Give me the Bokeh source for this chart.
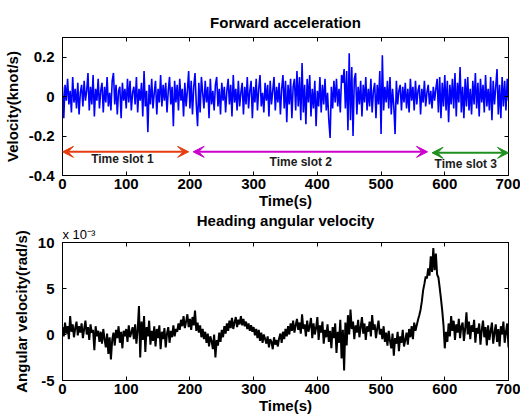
from bokeh.plotting import figure
from bokeh.models import LinearAxis, Range1d, Arrow, VeeHead, Label, FixedTicker, Title
from bokeh.layouts import column
from bokeh.embed import file_html
from bokeh.resources import INLINE

# ---------------- data ----------------
time_step_s = 2
forward_acc = [
    0.05, -0.11, 0.06, -0.02, 0.09, -0.04, 0.03, -0.08, 0.10, -0.03,
    0.04, -0.06, 0.07, -0.09, 0.02, 0.06, -0.05, 0.08, -0.02, 0.03,
    0.12, -0.07, 0.05, -0.04, 0.11, -0.10, 0.04, -0.02, 0.09, -0.06,
    0.03, 0.07, -0.08, 0.05, -0.03, 0.10, -0.05, 0.02, -0.07, 0.08,
    0.12, -0.04, 0.06, -0.09, 0.03, 0.05, -0.11, 0.07, -0.02, 0.04,
    -0.06, 0.09, -0.03, 0.08, -0.07, 0.02, 0.05, -0.04, 0.10, -0.08,
    0.04, -0.02, 0.07, -0.10, 0.13, -0.05, 0.03, -0.18, 0.06, -0.04,
    0.09, -0.06, 0.02, 0.08, -0.09, 0.04, -0.03, 0.11, -0.05, 0.06,
    -0.02, 0.07, -0.08, 0.03, 0.10, -0.04, 0.05, -0.15, 0.08, -0.03,
    0.06, -0.07, 0.09, -0.02, 0.04, -0.10, 0.07, -0.05, 0.03, 0.13,
    -0.06, 0.08, -0.09, 0.05, 0.12, -0.04, -0.15, 0.07, -0.08, 0.10,
    0.02, -0.06, 0.08, -0.03, 0.05, -0.11, 0.09, -0.04, 0.03, -0.07,
    0.06, 0.10, -0.05, 0.04, -0.09, 0.07, -0.02, 0.05, -0.08, 0.03,
    0.09, -0.04, 0.06, -0.10, 0.11, -0.03, 0.04, -0.07, 0.08, -0.05,
    0.02, 0.07, -0.09, 0.05, -0.04, 0.10, -0.06, 0.03, 0.08, -0.11,
    0.05, -0.03, 0.09, -0.07, 0.04, 0.11, -0.05, 0.02, -0.08, 0.07,
    -0.02, 0.06, -0.10, 0.08, -0.04, 0.03, 0.10, -0.07, 0.05, -0.03,
    0.07, -0.09, 0.04, 0.11, -0.06, 0.08, -0.13, 0.06, -0.04, 0.09,
    -0.11, 0.05, 0.09, -0.07, 0.13, -0.05, 0.10, -0.12, 0.17, -0.08,
    0.06, -0.14, 0.09, -0.03, 0.11, -0.10, 0.04, -0.06, 0.08, -0.15,
    0.03, -0.05, 0.10, -0.08, 0.06, -0.04, 0.09, -0.07, 0.02, -0.12,
    -0.21, 0.05, -0.06, 0.08, -0.03, 0.09, -0.05, 0.04, -0.08, 0.11,
    0.07, 0.14, -0.06, 0.13, -0.17, 0.22, -0.12, 0.15, -0.20, 0.09,
    0.12, -0.09, 0.05, -0.04, 0.08, -0.10, 0.06, -0.03, 0.10, -0.07,
    0.04, -0.05, 0.09, -0.08, 0.03, 0.07, -0.11, 0.06, -0.04, 0.13,
    -0.19, 0.21, -0.07, 0.05, -0.03, 0.08, -0.06, 0.10, -0.09, 0.04,
    -0.05, -0.19, 0.08, -0.04, 0.03, 0.06, -0.07, 0.05, -0.03, 0.07,
    -0.06, 0.04, -0.08, 0.09, -0.02, 0.05, -0.07, 0.08, -0.04, 0.03,
    0.06, -0.09, 0.04, -0.03, 0.08, -0.05, 0.02, 0.06, -0.04, 0.03,
    -0.06, 0.05, -0.02, 0.04, 0.09, -0.08, 0.10, -0.11, 0.07, -0.05,
    0.11, -0.07, 0.08, -0.13, 0.06, -0.04, 0.09, -0.06, 0.12, -0.10,
    0.07, -0.03, 0.15, -0.08, 0.05, -0.11, 0.09, -0.05, 0.10, -0.07,
    0.04, -0.09, 0.08, -0.04, 0.12, -0.06, 0.07, -0.10, 0.09, -0.03,
    0.06, -0.08, 0.11, -0.05, 0.04, -0.07, 0.10, -0.12, 0.08, -0.04,
    0.05, 0.14, -0.09, 0.06, -0.11, 0.10, -0.05, 0.08, -0.07, 0.09,
    -0.02,
]

# heading angular velocity, in units of 1e-3 rad/s
heading_rate_e3 = [
    0.8, -0.2, 1.3, 0.1, 0.9, -0.5, 2.0, 0.3, 1.1, -0.3,
    0.7, 1.4, -0.1, 0.9, 0.2, 1.2, -0.4, 0.6, 1.5, 0.0,
    0.8, -0.6, 1.1, 0.2, 0.5, -1.7, 0.9, -0.2, 0.4, -0.8,
    0.3, -1.0, 0.6, -0.5, -1.4, 0.1, -2.1, -0.3, -2.7, -0.6,
    0.2, -1.2, 0.5, -0.4, 0.9, -0.9, 0.3, -1.5, 0.4, -0.2,
    0.6, -0.8, 1.0, -0.3, 0.2, 0.8, -0.5, 1.1, -1.0, 0.5,
    3.1, -2.5, 1.4, -0.6, 2.0, -1.9, 0.8, -0.2, 1.5, -1.1,
    0.4, -0.7, 0.9, -1.3, 0.6, -0.4, 1.0, -1.6, 0.3, -0.5,
    0.7, -1.4, 0.1, 0.8, -0.9, 0.4, -0.3, 1.0, -0.2, 0.6,
    0.3, 1.2, 0.5, 1.6, 0.9, 2.0, 0.7, 1.4, 2.2, 0.8,
    1.7, 0.5, 1.9, 1.0, 2.6, 0.4, 1.3, 0.2, 1.0, -0.3,
    0.6, -0.5, 0.3, -0.9, 0.1, -1.3, -0.2, -0.7, -1.6, 0.0,
    -2.5, -0.6, -1.2, 0.2, -0.8, 0.5, -0.3, 0.9, 0.1, 1.2,
    0.4, 1.5, 0.7, 1.8, 0.6, 1.3, 1.9, 0.8, 1.6, 1.1,
    2.0, 1.0, 1.7, 0.9, 1.4, 0.6, 1.2, 0.4, 1.0, 0.3,
    0.8, -0.1, 0.6, -0.4, 0.5, -0.7, 0.2, -0.9, 0.0, -0.5,
    -1.0, -0.2, -1.4, -0.5, -0.8, -1.6, -0.3, -1.1, -0.6, -1.3,
    -0.4, 0.1, -0.9, 0.3, -0.5, 0.6, -0.2, 0.9, 0.0, 1.2,
    0.4, 1.5, 0.2, 1.0, 1.7, 0.5, 1.3, 0.1, 2.2, 0.6,
    1.1, -0.2, 1.5, 0.3, 0.9, 1.8, -0.4, 1.2, 0.0, 0.7,
    1.9, -0.6, 1.0, 0.2, 1.4, -1.0, 0.5, -0.3, 1.1, -0.8,
    0.4, -1.5, 0.8, -0.4, 1.2, -2.0, 0.3, -0.9, 1.6, -2.6,
    0.5, -3.9, 1.3, -1.2, 2.1, 0.0, 2.7, 0.6, 1.4, -0.5,
    1.0, 0.2, 1.6, -0.3, 0.8, 1.9, 0.1, 1.2, -0.6, 0.9,
    0.3, 1.4, -0.2, 2.1, 0.5, 1.1, -0.4, 0.7, 1.5, 0.0,
    0.6, -0.5, 0.9, -0.8, 0.2, -1.2, 0.4, -0.7, -1.5, 0.1,
    -2.3, -0.4, -1.0, 0.3, -1.8, -0.2, -0.9, 0.5, -1.3, -0.6,
    0.2, -1.1, 0.6, -0.3, 0.9, -0.5, 1.3, 0.4, 1.0, 1.6,
    2.1, 2.7, 3.6, 4.8, 5.5, 6.3, 6.1, 7.2, 6.4, 8.5,
    6.8, 9.4, 7.0, 8.8, 6.5, 6.2, 5.1, 3.9, 2.6, 1.0,
    -1.5, 0.3, -0.8, 1.2, -0.2, 2.0, 0.4, 1.5, -0.6, 1.1,
    0.2, 1.7, -0.4, 0.9, 1.3, -0.7, 0.6, 2.4, 0.0, 1.4,
    -0.5, 1.0, 0.3, 1.6, -0.9, 0.7, 0.1, 1.2, -1.1, 0.5,
    1.5, -0.3, 0.8, -1.2, 1.0, -0.6, 0.4, 1.3, -1.0, 0.2,
    1.1, -0.8, 0.6, -1.3, 0.9, 0.0, 1.4, -0.9, 0.3, 1.2,
    -1.4,
]

time_acc = [i * time_step_s for i in range(len(forward_acc))]
time_head = [i * time_step_s for i in range(len(heading_rate_e3))]

x_ticks = [0, 100, 200, 300, 400, 500, 600, 700]
y_ticks_top = [-0.4, -0.2, 0.0, 0.2]
y_tick_labels_top = ["-0.4", "-0.2", "0", "0.2"]
y_ticks_bot = [-5, 0, 5, 10]
y_tick_labels_bot = ["-5", "0", "5", "10"]
scale_note = "x 10\u207b\u00b3"

slot_names = ["Time slot 1", "Time slot 2", "Time slot 3"]
slot_start = [0, 205, 580]
slot_end = [198, 573, 700]
slot_arrow_y = [-0.28, -0.28, -0.285]
slot_label_x = [94, 374, 633]
slot_label_y = [-0.315, -0.33, -0.34]
slot_colors = ["#e63c10", "#cc00cc", "#1f8f1f"]

FONT = "Liberation Sans"


def style(p, yticks, ylabels):
    p.outline_line_color = "black"
    p.outline_line_width = 1
    p.xgrid.grid_line_color = None
    p.ygrid.grid_line_color = None
    p.background_fill_color = "white"
    p.border_fill_color = "white"
    for ax in p.xaxis:
        ax.ticker = FixedTicker(ticks=x_ticks)
        ax.major_label_overrides = {t: str(t) for t in x_ticks}
    for ax in p.yaxis:
        ax.ticker = FixedTicker(ticks=yticks)
        ax.major_label_overrides = dict(zip(yticks, ylabels))
    for ax in p.xaxis + p.yaxis:
        ax.major_tick_in = 4
        ax.major_tick_out = 0
        ax.minor_tick_line_color = None
        ax.axis_line_color = "black"
        ax.major_tick_line_color = "black"
        ax.major_label_text_font = FONT
        ax.major_label_text_font_style = "bold"
        ax.major_label_text_font_size = "15px"
        ax.major_label_text_color = "black"
        ax.axis_label_text_font = FONT
        ax.axis_label_text_font_style = "bold"
        ax.axis_label_text_font_size = "15px"
        ax.axis_label_text_color = "black"
    p.xaxis.major_label_standoff = 3
    p.xaxis.axis_label_standoff = 0
    p.yaxis.major_label_standoff = 8
    p.yaxis.axis_label_standoff = 5
    # box ticks on the top and right edges
    right = LinearAxis(ticker=FixedTicker(ticks=yticks), major_label_text_font_size="0px",
                       major_tick_in=4, major_tick_out=0, minor_tick_line_color=None,
                       axis_line_color="black", major_label_standoff=0)
    top = LinearAxis(ticker=FixedTicker(ticks=x_ticks), major_label_text_font_size="0px",
                     major_tick_in=4, major_tick_out=0, minor_tick_line_color=None,
                     axis_line_color="black", major_label_standoff=0)
    p.add_layout(right, "right")
    p.add_layout(top, "above")
    p.title.align = "center"
    p.title.text_font = FONT
    p.title.text_font_style = "bold"
    p.title.text_font_size = "15px"
    p.title.text_color = "black"


# ---------------- top plot ----------------
p1 = figure(width=520, height=212, output_backend="svg", toolbar_location=None,
            x_range=Range1d(0, 700), y_range=Range1d(-0.4, 0.3),
            title="Forward acceleration",
            x_axis_label="Time(s)", y_axis_label="Velocity(knot/s)",
            min_border_left=62, min_border_right=12, min_border_top=37, min_border_bottom=37)
p1.line(time_acc, forward_acc, line_color="#0000ff", line_width=1.6)
style(p1, y_ticks_top, y_tick_labels_top)
p1.title.standoff = 13

for name, xs, xe, ya, lx, ly, col in zip(slot_names, slot_start, slot_end, slot_arrow_y,
                                        slot_label_x, slot_label_y, slot_colors):
    p1.add_layout(Arrow(x_start=xs, y_start=ya, x_end=xe, y_end=ya,
                        line_color=col, line_width=2,
                        start=VeeHead(size=11, line_color=col, fill_color=col, line_width=1),
                        end=VeeHead(size=11, line_color=col, fill_color=col, line_width=1)))
    p1.add_layout(Label(x=lx, y=ly, text=name, text_align="center", text_baseline="middle",
                        text_font=FONT, text_font_style="bold", text_font_size="12px",
                        text_color="#202020"))

# ---------------- bottom plot ----------------
p2 = figure(width=520, height=204, output_backend="svg", toolbar_location=None,
            x_range=Range1d(0, 700), y_range=Range1d(-5, 10),
            title="Heading angular velocity",
            x_axis_label="Time(s)", y_axis_label="Angular velocity(rad/s)",
            min_border_left=62, min_border_right=12, min_border_top=30, min_border_bottom=34)
p2.line(time_head, heading_rate_e3, line_color="black", line_width=2)
style(p2, y_ticks_bot, y_tick_labels_bot)
p2.title.standoff = -9

note = Title(text=scale_note, align="left", text_font=FONT, text_font_size="13px",
             text_font_style="normal", text_color="black", standoff=1, offset=0)
p2.add_layout(note, "above")

layout = column(p1, p2, spacing=0)
open("out.html", "w").write(file_html(layout, INLINE))
